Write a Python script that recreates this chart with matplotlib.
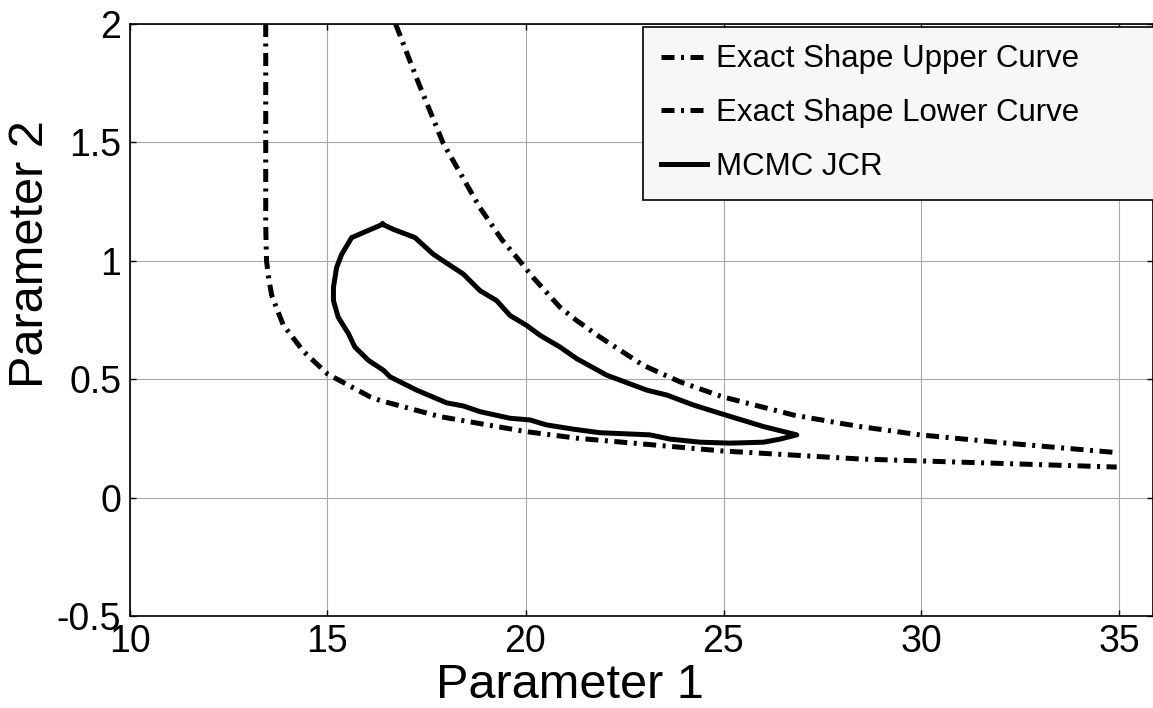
import numpy as np
import matplotlib
matplotlib.use("Agg")
import matplotlib.pyplot as plt

plt.rcParams['font.family'] = ['Liberation Sans', 'DejaVu Sans']

# Exact shape upper curve (Parameter 1, Parameter 2)
upper_x = [16.72, 17.3, 17.92, 18.85, 19.4, 19.9, 20.19, 20.87, 21.29, 21.88, 22.97,
           23.9, 24.97, 26.76, 27.94, 28.45, 29.96, 32.15, 34.93]
upper_y = [2.0, 1.75, 1.497, 1.224, 1.09, 0.99, 0.93, 0.804, 0.748, 0.678, 0.559,
           0.489, 0.426, 0.349, 0.314, 0.30, 0.265, 0.23, 0.19]

# Exact shape lower curve
lower_x = [13.44, 13.44, 13.44, 13.46, 13.52, 13.59, 13.75, 13.88, 14.39, 15.0,
           16.07, 16.33, 17.84, 20.0, 21.29, 24.97, 28.45, 29.96, 34.93]
lower_y = [2.0, 1.5, 1.15, 1.0, 0.92, 0.855, 0.785, 0.73, 0.618, 0.522,
           0.426, 0.41, 0.342, 0.279, 0.251, 0.197, 0.163, 0.155, 0.129]

# MCMC joint confidence region contour
jcr_x = [16.39, 15.61, 15.36, 15.23, 15.15, 15.15, 15.27, 15.53, 15.69, 16.03,
         16.41, 16.58, 17.25, 18.01, 18.43, 18.85, 19.61, 20.11, 20.53, 21.21,
         21.88, 23.14, 23.65, 24.41, 25.16, 26.01, 26.43, 26.85,
         26.01, 25.42, 24.91, 24.24, 23.57, 23.06, 22.05, 21.29, 20.87, 20.37,
         20.03, 19.61, 19.27, 18.85, 18.43, 17.92, 17.67, 17.21, 16.66, 16.39]
jcr_y = [1.154, 1.098, 1.028, 0.972, 0.888, 0.832, 0.762, 0.692, 0.636, 0.58,
         0.538, 0.51, 0.454, 0.40, 0.387, 0.363, 0.335, 0.328, 0.307, 0.289,
         0.274, 0.265, 0.247, 0.234, 0.230, 0.234, 0.247, 0.265,
         0.30, 0.33, 0.356, 0.391, 0.433, 0.454, 0.517, 0.587, 0.636, 0.685,
         0.727, 0.769, 0.832, 0.874, 0.944, 1.0, 1.028, 1.098, 1.133, 1.154]

xticks = [10, 15, 20, 25, 30, 35]
yticks = [-0.5, 0, 0.5, 1, 1.5, 2]
ytick_labels = ['-0.5', '0', '0.5', '1', '1.5', '2']

W, H = 1153, 708
fig = plt.figure(figsize=(W / 100, H / 100), dpi=100)
# axes box in pixels: left 129.5, right 1153, top 24, bottom 616
ax = fig.add_axes([129.5 / W, 1 - 616 / H, (1153 - 129.5) / W, (616 - 24) / H])

dashdot = (0, (2.6, 1.3, 0.6, 1.3))
ax.plot(upper_x, upper_y, color='black', lw=3.6, linestyle=dashdot,
        label='Exact Shape Upper Curve')
ax.plot(lower_x, lower_y, color='black', lw=3.6, linestyle=dashdot,
        label='Exact Shape Lower Curve')
ax.plot(jcr_x, jcr_y, color='black', lw=3.6, solid_joinstyle='round',
        label='MCMC JCR')

ax.set_xlim(10, 10 + (1153 - 129.5) / 39.6)
ax.set_ylim(-0.5, 2)
ax.set_xticks(xticks)
ax.set_xticklabels([str(t) for t in xticks])
ax.set_yticks(yticks)
ax.set_yticklabels(ytick_labels)
ax.grid(True, color='#a8a8a8', linewidth=0.8)
ax.tick_params(direction='in', length=4, width=1, labelsize=27, pad=6,
               top=True, right=True)
for s in ax.spines.values():
    s.set_linewidth(1.2)

ax.set_xlabel('Parameter 1', fontsize=35)
ax.xaxis.set_label_coords(570 / W, 1 - 685 / H, transform=fig.transFigure)
ax.xaxis.label.set_va('center')
ax.set_ylabel('Parameter 2', fontsize=35)
ax.yaxis.set_label_coords(31 / W, 1 - 254 / H, transform=fig.transFigure)
ax.yaxis.label.set_va('center')

# legend box starts at x=643 px and runs past the right edge of the picture
ax_w = 1153 - 129.5
leg = ax.legend(loc='upper left', mode='expand',
                bbox_to_anchor=((643 - 129.5) / ax_w, 0, (1175 - 643) / ax_w, (616 - 27) / 592),
                fontsize=22.5, frameon=True, fancybox=False,
                framealpha=1, facecolor='#f7f7f7', edgecolor='black',
                handlelength=1.5, handletextpad=0.26, labelspacing=0.76,
                borderaxespad=0, borderpad=0.56)
leg.get_frame().set_linewidth(1.2)

fig.savefig('out.png', dpi=100)
